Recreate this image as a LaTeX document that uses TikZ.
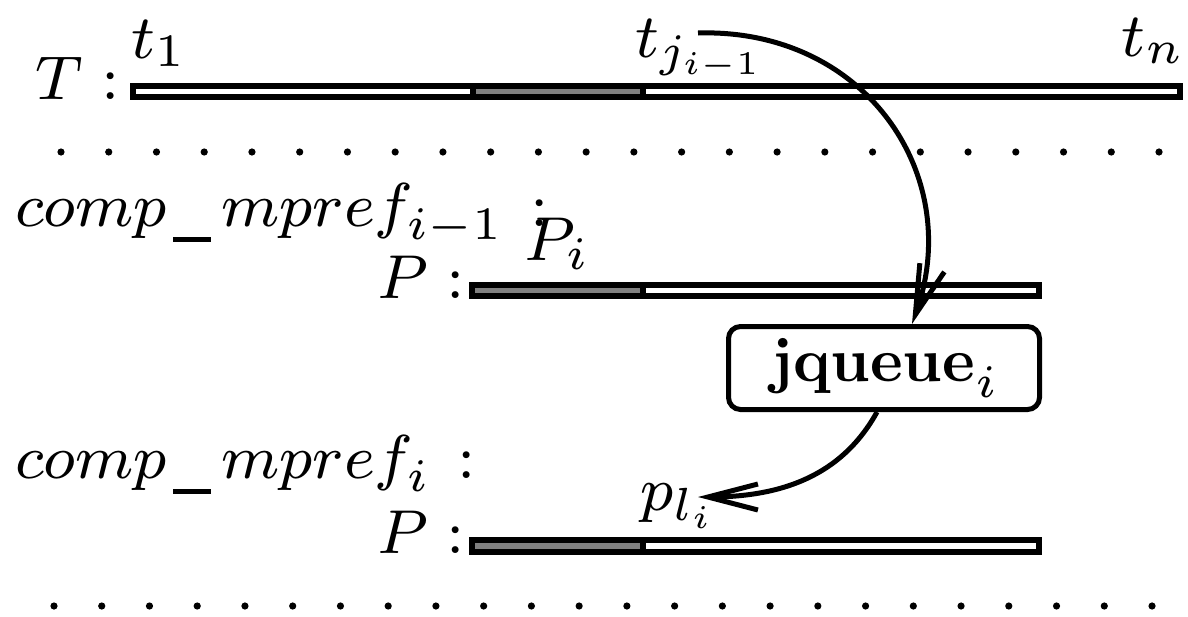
\documentclass[tikz,border=0pt]{standalone}
\usepackage{amsmath}
\DeclareFontShape{OML}{cmm}{m}{it}{<-44> cmmi5 <44-55> cmmi6 <55-> cmmi8}{\skewchar\font=127}
\DeclareFontShape{OT1}{cmr}{m}{n}{<-44> cmr5 <44-55> cmr6 <55-> cmr8}{}
\DeclareFontShape{OT1}{cmr}{bx}{n}{<-44> cmbx5 <44-55> cmbx6 <55-> cmbx10}{}
\DeclareFontShape{OMS}{cmsy}{m}{n}{<-44> cmsy5 <44-55> cmsy6 <55-> cmsy8}{\skewchar\font=48}
\DeclareFontShape{OMX}{cmex}{m}{n}{<->cmex10}{}
\DeclareMathSizes{62}{62}{46.5}{33}
\newcommand{\usbar}{\mbox{\kern0.1em\rule[-0.25em]{0.62em}{0.08em}\kern0.16em}}
\newcommand{\lowsub}[1]{\raisebox{-0.1em}{$\scriptstyle #1$}}
\usetikzlibrary{arrows.meta}
\begin{document}
\begin{tikzpicture}[x=1pt,y=-1pt,
  lbl/.style={inner sep=0pt,outer sep=0pt,font=\fontsize{62}{74}\selectfont},
  bar/.style={draw=black,line width=6pt,fill=white},
  done/.style={draw=black,line width=6pt,fill=black!50},
  conn/.style={line width=5pt,-{Straight Barb[length=50pt,width=26pt,line width=5pt]}},
  qbox/.style={draw,line width=5pt,rounded corners=12pt,minimum width=311pt,minimum height=83pt,inner sep=0pt,font=\fontsize{62}{74}\selectfont}]
\useasboundingbox (0,0) rectangle (1188,616);
% T bar
\draw[bar] (133,86) rectangle (1180,97);
\draw[done] (473,86) rectangle (643,97);
% P bars
\draw[bar] (472,285) rectangle (1039,296);
\draw[done] (472,285) rectangle (643,296);
\draw[bar] (472,540) rectangle (1039,552);
\draw[done] (472,540) rectangle (643,552);
% dots
\foreach \k in {0,...,23} {
  \fill ({61+47.74*\k},152) circle (3.6pt);
  \fill ({54+47.74*\k},606) circle (3.6pt);
}
% labels
\node[lbl,anchor=base east] (T) at (120,99) {$T:$};
\node[lbl,anchor=base west] (t1) at (131,58) {$t_1$};
\node[lbl,anchor=base west] (tj) at (635,57) {$t_{j_{i-1}}$};
\node[lbl,anchor=base east] (tn) at (1182,56) {$t_n$};
\node[lbl,anchor=base west] (cm1) at (15,226) {$comp\usbar mpref_{\lowsub{i-1}}\,:$};
\node[lbl,anchor=base west] (Pi) at (524,260) {$P_i$};
\node[lbl,anchor=base east] (P1) at (465,298) {$P:$};
\node[qbox] (jq) at (884,368) {$\mathbf{jqueue}_i$};
\node[lbl,anchor=base west] (cm2) at (15,478) {$comp\usbar mpref_{\lowsub{i}}\,:$};
\node[lbl,anchor=base west] (pli) at (640,510) {$p_{l_i}$};
\node[lbl,anchor=base east] (P2) at (465,553) {$P:$};
% connectors
\coordinate (tjs) at (698,33);
\coordinate (plie) at (698,497);
\draw[conn] (tjs) .. controls (865,28) and (965,175) .. ([xshift=28pt]jq.north);
\draw[conn] ([xshift=-7pt]jq.south) .. controls (845,470) and (790,497) .. (plie);
\end{tikzpicture}
\end{document}
